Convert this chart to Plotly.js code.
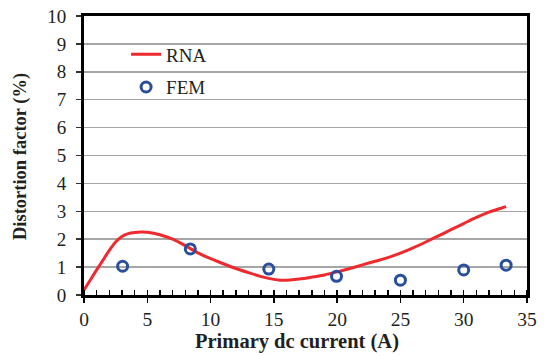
<!DOCTYPE html>
<html>
<head>
<meta charset="utf-8">
<script src="https://cdn.plot.ly/plotly-3.0.1.min.js"></script>
<style>html,body{margin:0;padding:0;background:#fff}#chart{width:544px;height:356px}</style>
</head>
<body>
<div id="chart"></div>
<script>
// RNA model curve
const rnaCurrent = [0,0.5,1,1.5,2,2.5,3,3.5,4,4.5,5,6,7,8,9,10,11,12,13,14,15,15.5,16,17,18,19,20,21,22,23,24,25,26,27,28,29,30,31,32,33,33.35];
const rnaDistortion = [0.18,0.54,0.9,1.25,1.6,1.9,2.1,2.2,2.24,2.26,2.25,2.16,2.0,1.77,1.51,1.3,1.12,0.95,0.8,0.66,0.56,0.53,0.53,0.57,0.64,0.72,0.83,0.95,1.08,1.21,1.34,1.5,1.69,1.9,2.12,2.34,2.56,2.78,2.97,3.12,3.17];
// FEM points
const femCurrent = [3.05, 8.4, 14.6, 19.95, 25.0, 30.0, 33.35];
const femDistortion = [1.03, 1.65, 0.93, 0.67, 0.53, 0.9, 1.07];

const xTickVals = [0,5,10,15,20,25,30,35];
const yTickVals = [0,1,2,3,4,5,6,7,8,9,10];
const xTitle = 'Primary dc current (A)';
const yTitle = 'Distortion factor (%)';

const serif = 'Liberation Serif';
const txt = '#231f20';

const traces = [
  {x: rnaCurrent, y: rnaDistortion, type: 'scatter', mode: 'lines', name: 'RNA',
   line: {color: '#ee2a2e', width: 3, shape: 'spline', smoothing: 0.8}, legend: 'legend'},
  {x: femCurrent, y: femDistortion, type: 'scatter', mode: 'markers', name: 'FEM',
   marker: {symbol: 'circle-open', size: 10, color: '#2a4e9e', line: {width: 3, color: '#2a4e9e'}}, legend: 'legend2'},
  {x: [0], y: [0], xaxis: 'x2', yaxis: 'y', mode: 'markers', marker: {opacity: 0}, showlegend: false, hoverinfo: 'skip'}
];

const layout = {
  width: 544, height: 356,
  margin: {l: 84, r: 17, t: 16, b: 61},
  paper_bgcolor: '#fff', plot_bgcolor: '#fff',
  font: {family: serif, size: 19, color: txt},
  xaxis: {
    range: [0, 35], tickvals: xTickVals, ticktext: xTickVals.map(String),
    showline: true, linecolor: '#000', linewidth: 3, mirror: true,
    ticks: 'outside', ticklen: 5, tickwidth: 1.5, tickcolor: '#000',
    minor: {ticks: 'inside', dtick: 1, ticklen: 5, tickwidth: 1.5, tickcolor: '#000'},
    showgrid: false, zeroline: false,
    tickfont: {family: serif, size: 19.5, color: txt}
  },
  xaxis2: {
    overlaying: 'x', range: [0, 35], tickvals: xTickVals, ticks: 'inside', ticklen: 5, tickwidth: 1.5,
    tickcolor: '#000', showticklabels: false, showgrid: false, zeroline: false, showline: false, side: 'bottom'
  },
  yaxis: {
    range: [0, 10], tickvals: yTickVals, ticktext: yTickVals.map(String),
    showline: true, linecolor: '#000', linewidth: 3, mirror: true,
    ticks: 'outside', ticklen: 5, tickwidth: 1.5, tickcolor: '#333',
    showgrid: true, gridcolor: '#a6a6a6', gridwidth: 1.5, zeroline: false,
    tickfont: {family: serif, size: 19, color: txt},
    ticklabelstandoff: 6
  },
  annotations: [
    {text: '<b>' + xTitle + '</b>', xref: 'paper', yref: 'paper', x: (297 - 84) / 443, y: -(341 - 295) / 279,
     xanchor: 'center', yanchor: 'middle', showarrow: false, font: {family: serif, size: 20.5, color: txt}},
    {text: '<b>' + yTitle + '</b>', xref: 'paper', yref: 'paper', x: -(84 - 20) / 443, y: (295 - 157) / 279,
     xanchor: 'center', yanchor: 'middle', textangle: -90, showarrow: false, font: {family: serif, size: 18.5, color: txt}}
  ],
  showlegend: true,
  legend: {x: 0.095, y: 0.862, xanchor: 'left', yanchor: 'middle', bgcolor: 'rgba(0,0,0,0)',
           font: {family: serif, size: 19, color: txt}, borderwidth: 0},
  legend2: {x: 0.095, y: 0.745, xanchor: 'left', yanchor: 'middle', bgcolor: 'rgba(0,0,0,0)',
           font: {family: serif, size: 19, color: txt}, borderwidth: 0}
};

Plotly.newPlot('chart', traces, layout, {staticPlot: true, displayModeBar: false});
</script>
</body>
</html>
